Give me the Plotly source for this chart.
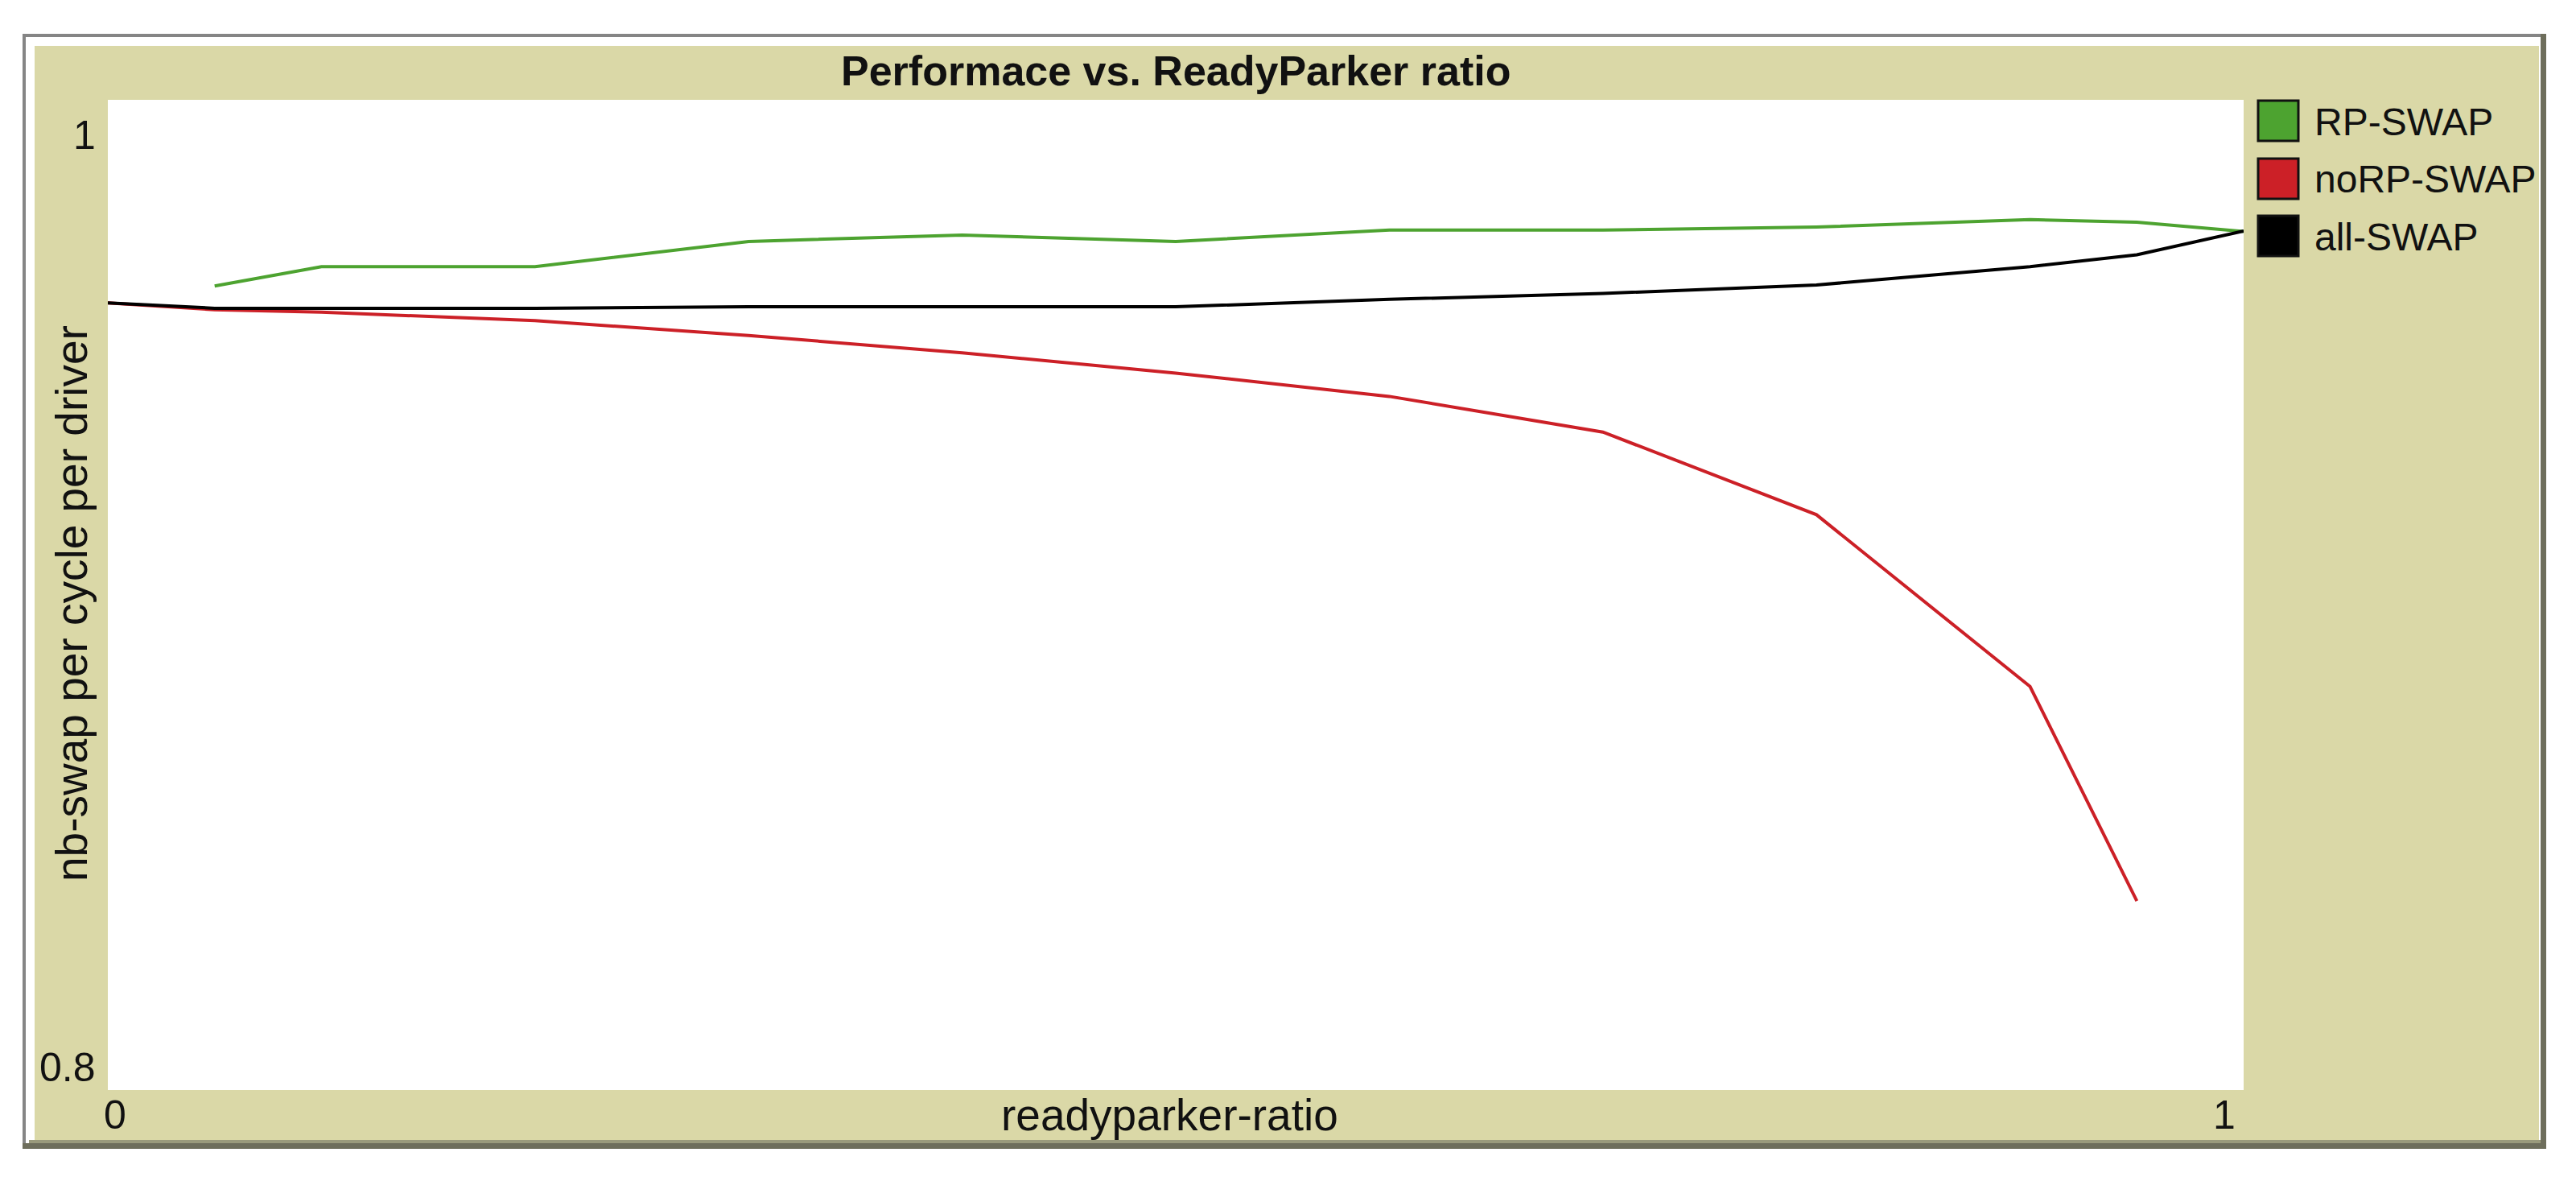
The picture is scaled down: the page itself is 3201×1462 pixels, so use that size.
import plotly.graph_objects as go

# ---------------- data ----------------
rp_x = [0.05, 0.1, 0.2, 0.3, 0.4, 0.5, 0.6, 0.7, 0.8, 0.9, 0.95, 1.0]
rp_swap = [0.9624, 0.9663, 0.9663, 0.9714, 0.9727, 0.9714, 0.9737, 0.9737, 0.9743, 0.9758, 0.9753, 0.9734]

norp_x = [0.0, 0.05, 0.1, 0.2, 0.3, 0.4, 0.5, 0.6, 0.7, 0.8, 0.9, 0.95]
norp_swap = [0.9590, 0.9576, 0.9571, 0.9554, 0.9524, 0.9489, 0.9448, 0.9401, 0.9329, 0.9162, 0.8815, 0.8382]

all_x = [0.0, 0.05, 0.1, 0.2, 0.3, 0.4, 0.5, 0.6, 0.7, 0.8, 0.9, 0.95, 1.0]
all_swap = [0.9590, 0.9579, 0.9579, 0.9579, 0.9582, 0.9582, 0.9582, 0.9597, 0.9609, 0.9626, 0.9663, 0.9687, 0.9735]

series_names = ["RP-SWAP", "noRP-SWAP", "all-SWAP"]
series_colors = ["#4DA330", "#CC2027", "#000000"]

x_range = [0, 1]
y_range = [0.8, 1]
x_tick_labels = ["0", "1"]
y_tick_labels = ["0.8", "1"]

title_text = "Performace vs. ReadyParker ratio"
x_title = "readyparker-ratio"
y_title = "nb-swap per cycle per driver"

# ---------------- layout geometry (page pixels) ----------------
OFF = 8                      # default body margin of the html page
W, H = 3201 - 2 * OFF, 1462 - 2 * OFF
L, R, T, B = 134, 2788, 124, 1354
FONT = "Liberation Sans"


def px(x):
    return (x - L) / (R - L)


def py(y):
    return (B - y) / (B - T)


fig = go.Figure()
for xs, ys, name, col in zip([rp_x, norp_x, all_x], [rp_swap, norp_swap, all_swap],
                             series_names, series_colors):
    fig.add_trace(go.Scatter(x=xs, y=ys, mode="lines", name=name,
                             line=dict(color=col, width=4), showlegend=False))

shapes = []


def rect(x0, y0, x1, y1, fill, line_color=None, line_width=0, layer="below"):
    shapes.append(dict(type="rect", xref="paper", yref="paper", layer=layer,
                       x0=px(x0), x1=px(x1), y0=py(y1), y1=py(y0),
                       fillcolor=fill,
                       line=dict(width=line_width, color=line_color or fill)))


# bevelled frame
rect(28, 42, 3164, 1427, "#6e6e5c")
rect(28, 42, 3157, 1420, "#858585")
rect(32, 46, 3157, 1420, "#ffffff")
rect(43, 57, 3155, 1416, "#DAD8A7")
rect(36, 1416, 3157, 1420, "#9a9a7c")
# plot area
rect(L, T, R, B, "#ffffff")

annotations = []


def text(x, y, s, size=48, xanchor="center", yanchor="middle", bold=False, angle=0):
    annotations.append(dict(xref="paper", yref="paper", x=px(x), y=py(y), text=s,
                            showarrow=False, xanchor=xanchor, yanchor=yanchor,
                            textangle=angle,
                            font=dict(family=FONT, size=size, color="#111111",
                                      weight="bold" if bold else "normal")))


# title and axis titles
text((L + R) / 2, 88, title_text, size=52, bold=True)
text(1453, 1385, x_title, size=55)
text(89, 750, y_title, size=55, angle=-90)

# tick labels
text(121, 1326, y_tick_labels[0], size=50, xanchor="right")
text(121, 168, y_tick_labels[1], size=50, xanchor="right")
text(143, 1385, x_tick_labels[0], size=50)
text(2764, 1385, x_tick_labels[1], size=50)

# legend
leg_y = [150, 222, 293]
for name, col, yc in zip(series_names, series_colors, leg_y):
    rect(2806, yc - 25, 2856, yc + 25, col, "#111111", 3, layer="above")
    text(2874, yc + 1, name, size=48, xanchor="left")

fig.update_layout(
    width=W, height=H,
    margin=dict(l=L - OFF, r=W - (R - OFF), t=T - OFF, b=H - (B - OFF), pad=0),
    paper_bgcolor="#ffffff", plot_bgcolor="#ffffff",
    xaxis=dict(range=x_range, showgrid=False, zeroline=False, showticklabels=False,
               ticks="", showline=False),
    yaxis=dict(range=y_range, showgrid=False, zeroline=False, showticklabels=False,
               ticks="", showline=False),
    shapes=shapes, annotations=annotations,
)

fig.write_html("out.html")
